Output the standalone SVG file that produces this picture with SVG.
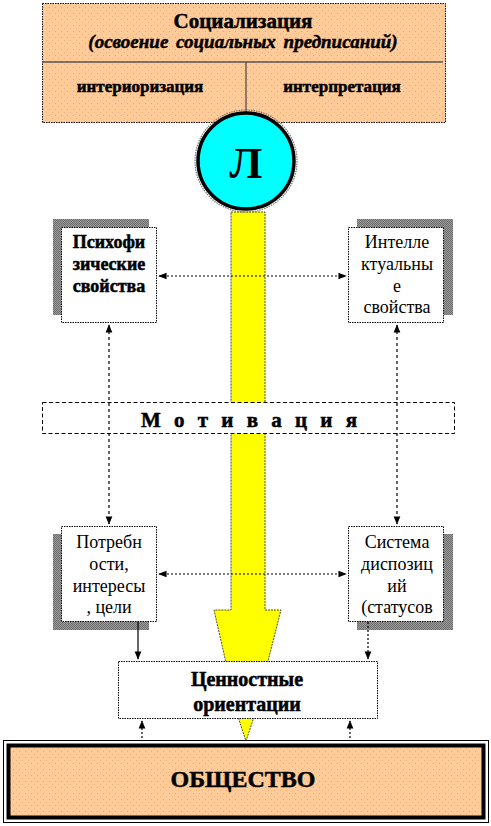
<svg xmlns="http://www.w3.org/2000/svg" width="491" height="826" viewBox="0 0 491 826">
<defs>
<pattern id="peach" width="6" height="6" patternUnits="userSpaceOnUse">
<rect width="6" height="6" fill="#FFCC99"/>
<rect x="1" y="1" width="1" height="1" fill="#E8A070"/>
<rect x="4" y="4" width="1" height="1" fill="#F0B080"/>
</pattern>
<pattern id="shade" width="2" height="2" patternUnits="userSpaceOnUse">
<rect width="2" height="2" fill="#9a9a9a"/>
<rect width="1" height="1" fill="#6e6e6e"/>
<rect x="1" y="1" width="1" height="1" fill="#6e6e6e"/>
</pattern>
<marker id="ah" viewBox="0 0 10 10" refX="9" refY="5" markerWidth="7" markerHeight="7" orient="auto-start-reverse">
<path d="M0,1 L10,5 L0,9 Z" fill="#000"/>
</marker>
</defs>
<style>
.b{font-family:"Liberation Serif","Times New Roman",serif;font-weight:bold;fill:#000;stroke:#000;stroke-width:0.5;text-anchor:middle}
.r{font-family:"Liberation Serif","Times New Roman",serif;fill:#000;text-anchor:middle;font-size:18px}
.box{fill:#fff;stroke:#000;stroke-width:1;stroke-dasharray:1.5 1}
.conn{fill:none;stroke:#000;stroke-width:1.2}
.dot{stroke-dasharray:2 2}
</style>

<g id="socialization">
<rect x="42.5" y="3.5" width="403" height="119" fill="url(#peach)" stroke="#000" stroke-width="1" stroke-dasharray="1.5 1"/>
<line x1="42" y1="62" x2="443" y2="62" stroke="#555" stroke-width="1.5"/>
<line x1="246" y1="62" x2="246" y2="112" stroke="#444" stroke-width="1.2"/>
<text class="b" x="243" y="28" font-size="21">Социализация</text>
<text class="b" x="243" y="48" font-size="19" font-style="italic" word-spacing="3">(освоение социальных  предписаний)</text>
<text class="b" x="140" y="92" font-size="17">интериоризация</text>
<text class="b" x="342" y="92" font-size="17">интерпретация</text>
</g>

<g id="arrow">
<path d="M231,212 L265,212 L265,610 L281,610 L253,720 L246,741 L239,720 L214,610 L231,610 Z" fill="#FFFF00" stroke="#222" stroke-width="0.8" stroke-dasharray="2 1"/>
</g>

<g id="person">
<circle cx="246" cy="161" r="51" fill="none" stroke="#777" stroke-width="1.2" stroke-dasharray="1.5 1"/>
<circle cx="246" cy="161" r="48" fill="#00FFFF" stroke="#000" stroke-width="3.5"/>
<text x="246" y="178" font-family="Liberation Serif, serif" font-weight="bold" font-size="44" text-anchor="middle" fill="#000">Л</text>
</g>

<g id="motivation">
<rect x="42.5" y="402.5" width="412" height="31" fill="#fff" stroke="#000" stroke-width="1" stroke-dasharray="4 2.5"/>
<text class="b" x="251" y="427" font-size="21" letter-spacing="4">М о т и в а ц и я</text>
</g>

<g id="psycho">
<rect x="53" y="219" width="96" height="96" fill="url(#shade)"/>
<rect class="box" x="61.5" y="227.5" width="95" height="95"/>
<text class="b" x="109" y="248" font-size="18">Психофи</text>
<text class="b" x="109" y="270" font-size="18">зические</text>
<text class="b" x="109" y="292" font-size="18">свойства</text>
</g>

<g id="intellect">
<rect x="357" y="219" width="96" height="96" fill="url(#shade)"/>
<rect class="box" x="348.5" y="227.5" width="95" height="95"/>
<text class="r" x="397" y="248">Интелле</text>
<text class="r" x="397" y="270">ктуальны</text>
<text class="r" x="397" y="292">е</text>
<text class="r" x="397" y="313">свойства</text>
</g>

<g id="needs">
<rect x="53" y="534" width="96" height="96" fill="url(#shade)"/>
<rect class="box" x="61.5" y="526.5" width="95" height="95"/>
<text class="r" x="109" y="548">Потребн</text>
<text class="r" x="109" y="570">ости,</text>
<text class="r" x="109" y="592">интересы</text>
<text class="r" x="109" y="613">, цели</text>
</g>

<g id="dispositions">
<rect x="357" y="534" width="96" height="96" fill="url(#shade)"/>
<rect class="box" x="348.5" y="526.5" width="95" height="95"/>
<text class="r" x="397" y="548">Система</text>
<text class="r" x="397" y="570">диспозиц</text>
<text class="r" x="397" y="592">ий</text>
<text class="r" x="397" y="613">(статусов</text>
</g>

<g id="connectors">
<line class="conn dot" x1="159" y1="276" x2="346" y2="276" marker-start="url(#ah)" marker-end="url(#ah)"/>
<line class="conn dot" x1="159" y1="574" x2="346" y2="574" marker-start="url(#ah)" marker-end="url(#ah)"/>
<line class="conn" x1="109" y1="325" x2="109" y2="524" stroke-dasharray="3 3" marker-start="url(#ah)" marker-end="url(#ah)"/>
<line class="conn" x1="397" y1="325" x2="397" y2="524" stroke-dasharray="3 3" marker-start="url(#ah)" marker-end="url(#ah)"/>
<line class="conn" x1="138" y1="622" x2="138" y2="659" marker-end="url(#ah)"/>
<line class="conn dot" x1="368" y1="622" x2="368" y2="659" stroke-width="1.6" marker-end="url(#ah)"/>
<line class="conn dot" x1="142" y1="742" x2="142" y2="721" marker-end="url(#ah)"/>
<line class="conn dot" x1="350" y1="742" x2="350" y2="721" marker-end="url(#ah)"/>
</g>

<g id="values">
<rect class="box" x="118.5" y="661.5" width="259" height="57"/>
<text class="b" x="247" y="686" font-size="20">Ценностные</text>
<text class="b" x="247" y="711" font-size="20">ориентации</text>
</g>

<g id="society">
<rect x="3.5" y="740.5" width="485" height="82" fill="#fff" stroke="#000" stroke-width="1"/>
<rect x="8.5" y="745.5" width="475" height="72" fill="url(#peach)" stroke="#000" stroke-width="4"/>
<text class="b" x="243" y="787" font-size="24">ОБЩЕСТВО</text>
</g>
</svg>
